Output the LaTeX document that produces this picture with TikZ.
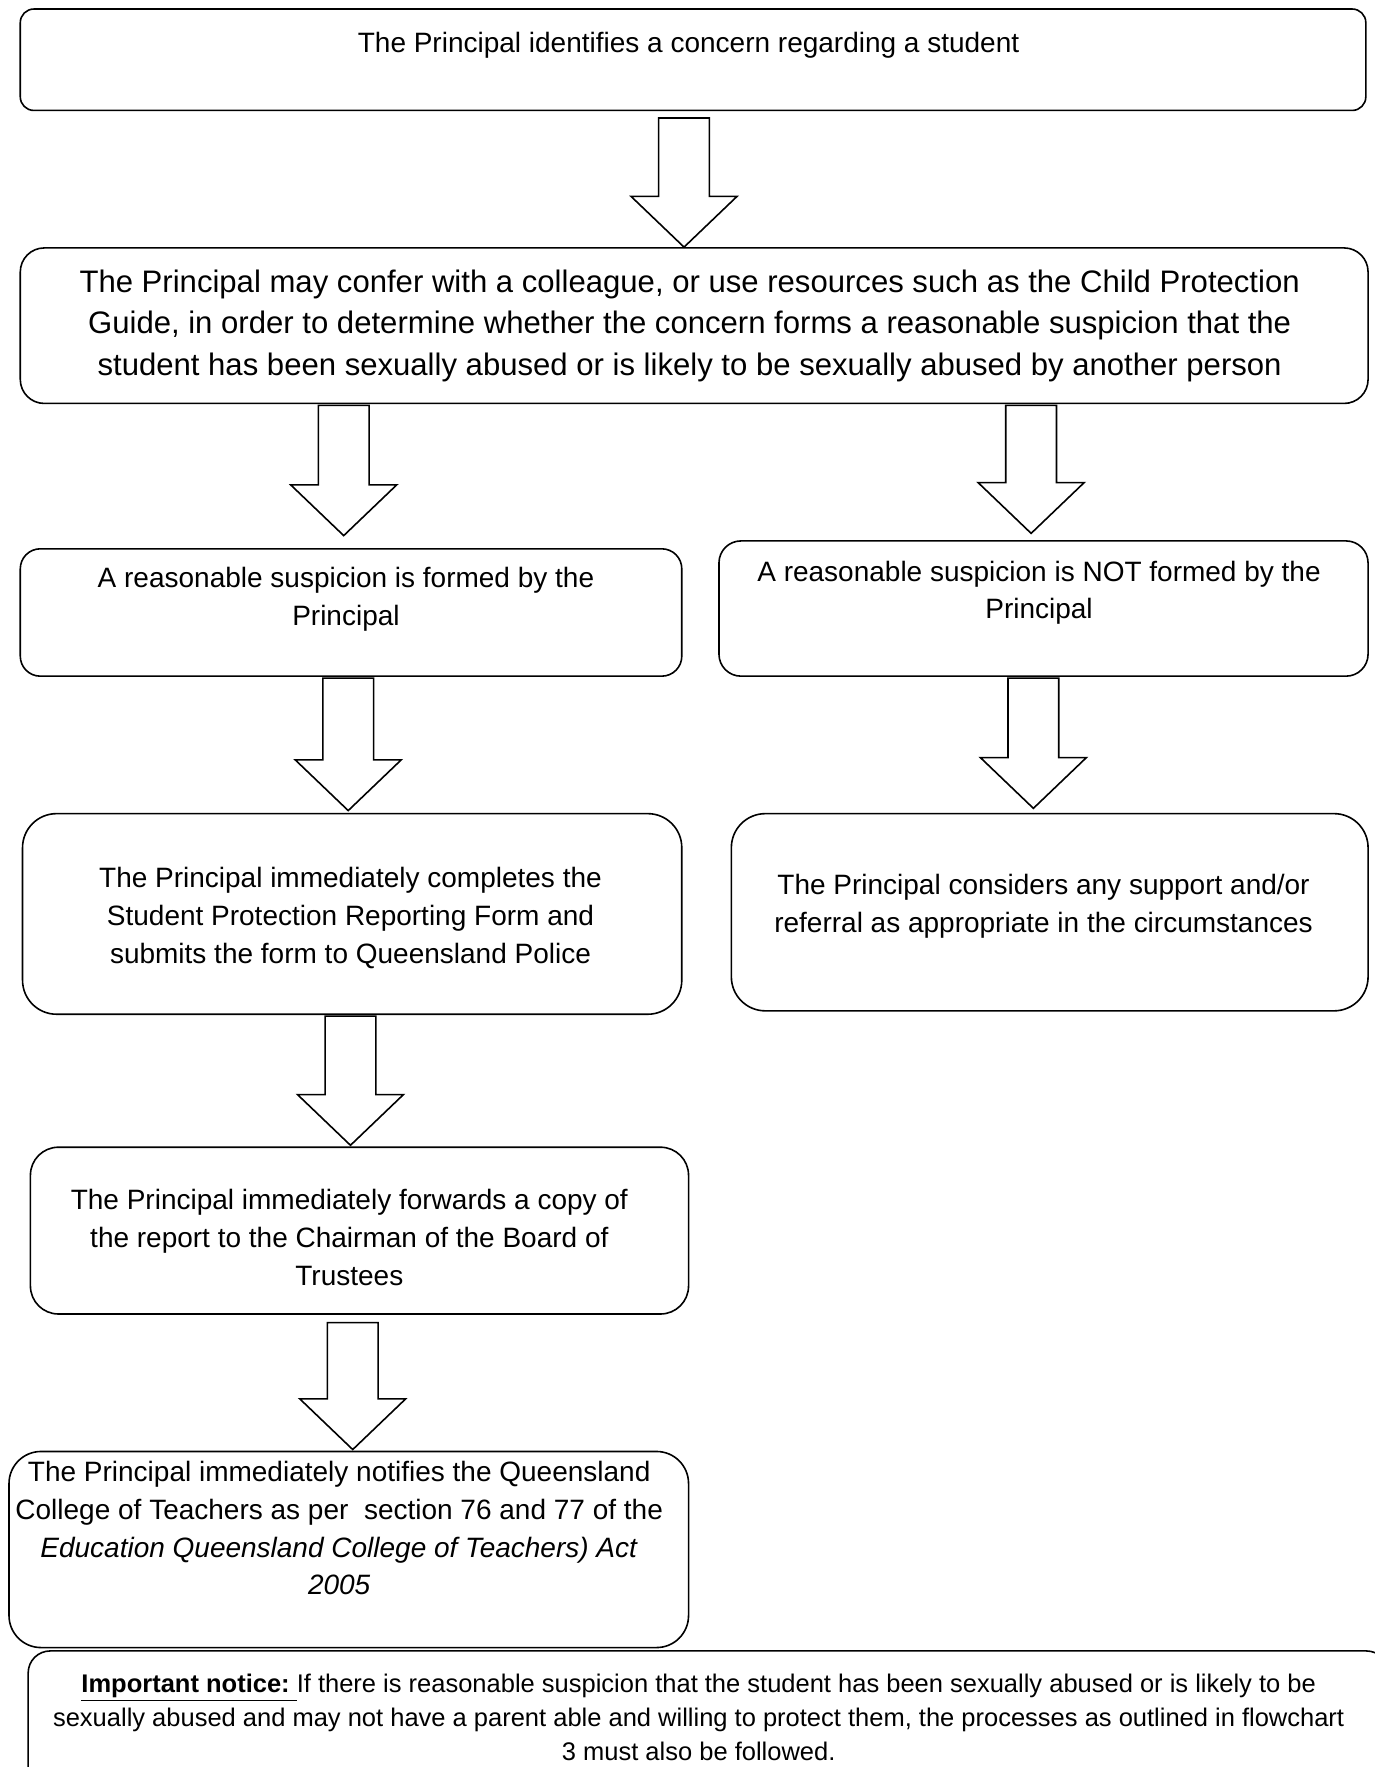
\documentclass[tikz,border=0pt]{standalone}
\usepackage{fontspec}
\setmainfont{Liberation Sans}
\usetikzlibrary{calc,fit}

\tikzset{
  stage/.style={draw, line width=0.8pt, inner sep=0pt, rounded corners=#1},
  stage/.default=10pt,
  txt/.style={align=center, inner sep=0pt, font=\fontsize{14}{18.9}\selectfont},
  bigtxt/.style={txt, font=\fontsize{15.55}{20.8}\selectfont},
  notetxt/.style={txt, font=\fontsize{12.75}{16.9}\selectfont},
  blockarr/.style={draw, line width=0.8pt, fill=white, line join=miter}
}
% #1 from, #2 to, #3 x of the arrow, #4 gap below #1, #5 gap above #2
\newcommand\blockarrow[5]{%
  \coordinate (s) at ($(#3,0 |- #1.south)+(0,#4)$);
  \coordinate (t) at ($(#3,0 |- #2.north)+(0,-#5)$);
  \draw[blockarr] ($(s)+(-22.5,0)$) -- ($(t)+(-22.5,-45)$) -- ($(t)+(-47,-45)$) -- (t)
    -- ($(t)+(47,-45)$) -- ($(t)+(22.5,-45)$) -- ($(s)+(22.5,0)$) -- cycle;}

\begin{document}
\begin{tikzpicture}[x=0.5635pt, y=-0.5635pt]
		%%%%% FRAME %%%%%
		\path[use as bounding box, fill=white] (0,0) rectangle (1220,1568);
		\clip (0,0) rectangle (1220,1568);
		
		%%%%% BOXES %%%%%
		\node[stage=6.8pt, fit={(18,8) (1212,98)}] (concern) {};
		\node[stage=12pt, fit={(18,220) (1214,358)}] (confer) {};
		\node[stage=10pt, fit={(18,487) (605,600)}] (formed) {};
		\node[stage=11pt, fit={(638,480) (1214,600)}] (notformed) {};
		\node[stage=17pt, fit={(20,722) (605,900)}] (report) {};
		\node[stage=17pt, fit={(649,722) (1214,897)}] (support) {};
		\node[stage=14pt, fit={(27,1018) (611,1166)}] (forward) {};
		\node[stage=16pt, fit={(8,1288) (611,1462)}] (notify) {};
		\node[stage=11pt, fit={(25,1465) (1232,1600)}] (notice) {};
		
		%%%%% TEXT %%%%%
		\node[txt] (concerntxt) at (611,40) {The Principal identifies a concern regarding a student};
		\node[bigtxt] (confertxt) at (612,289) {The Principal may confer with a colleague, or use resources such as the Child Protection\\
			Guide, in order to determine whether the concern forms a reasonable suspicion that the\\
			student has been sexually abused or is likely to be sexually abused by another person};
		\node[txt] (formedtxt) at (307,532) {A reasonable suspicion is formed by the\\Principal};
		\node[txt] (notformedtxt) at (922,526) {A reasonable suspicion is NOT formed by the\\Principal};
		\node[txt] (reporttxt) at (311,814.5) {The Principal immediately completes the\\
			Student Protection Reporting Form and\\submits the form to Queensland Police};
		\node[txt] (supporttxt) at (926,804.5) {The Principal considers any support and/or\\
			referral as appropriate in the circumstances};
		\node[txt] (forwardtxt) at (310,1098) {The Principal immediately forwards a copy of\\
			the report to the Chairman of the Board of\\Trustees};
		\node[txt] (notifytxt) at (301,1356) {The Principal immediately notifies the Queensland\\
			College of Teachers as per \ section 76 and 77 of the\\
			\textit{Education Queensland College of Teachers) Act}\\\textit{2005}};
		\node[notetxt] (noticetxt) at (620,1524) {\underline{\textbf{Important notice:}\ }If there is reasonable suspicion that the student has been sexually abused or is likely to be\\
			sexually abused and may not have a parent able and willing to protect them, the processes as outlined in flowchart\\
			3 must also be followed.};
		
		%%%%% ARROWS %%%%%
		\blockarrow{concern}{confer}{607}{6}{0}
		\blockarrow{confer}{formed}{305}{1}{11}
		\blockarrow{confer}{notformed}{915}{1}{6}
		\blockarrow{formed}{report}{309}{1}{2}
		\blockarrow{notformed}{support}{917}{1}{4}
		\blockarrow{report}{forward}{311}{1}{1}
		\blockarrow{forward}{notify}{313}{7}{1}
		
	\end{tikzpicture}
\end{document}
